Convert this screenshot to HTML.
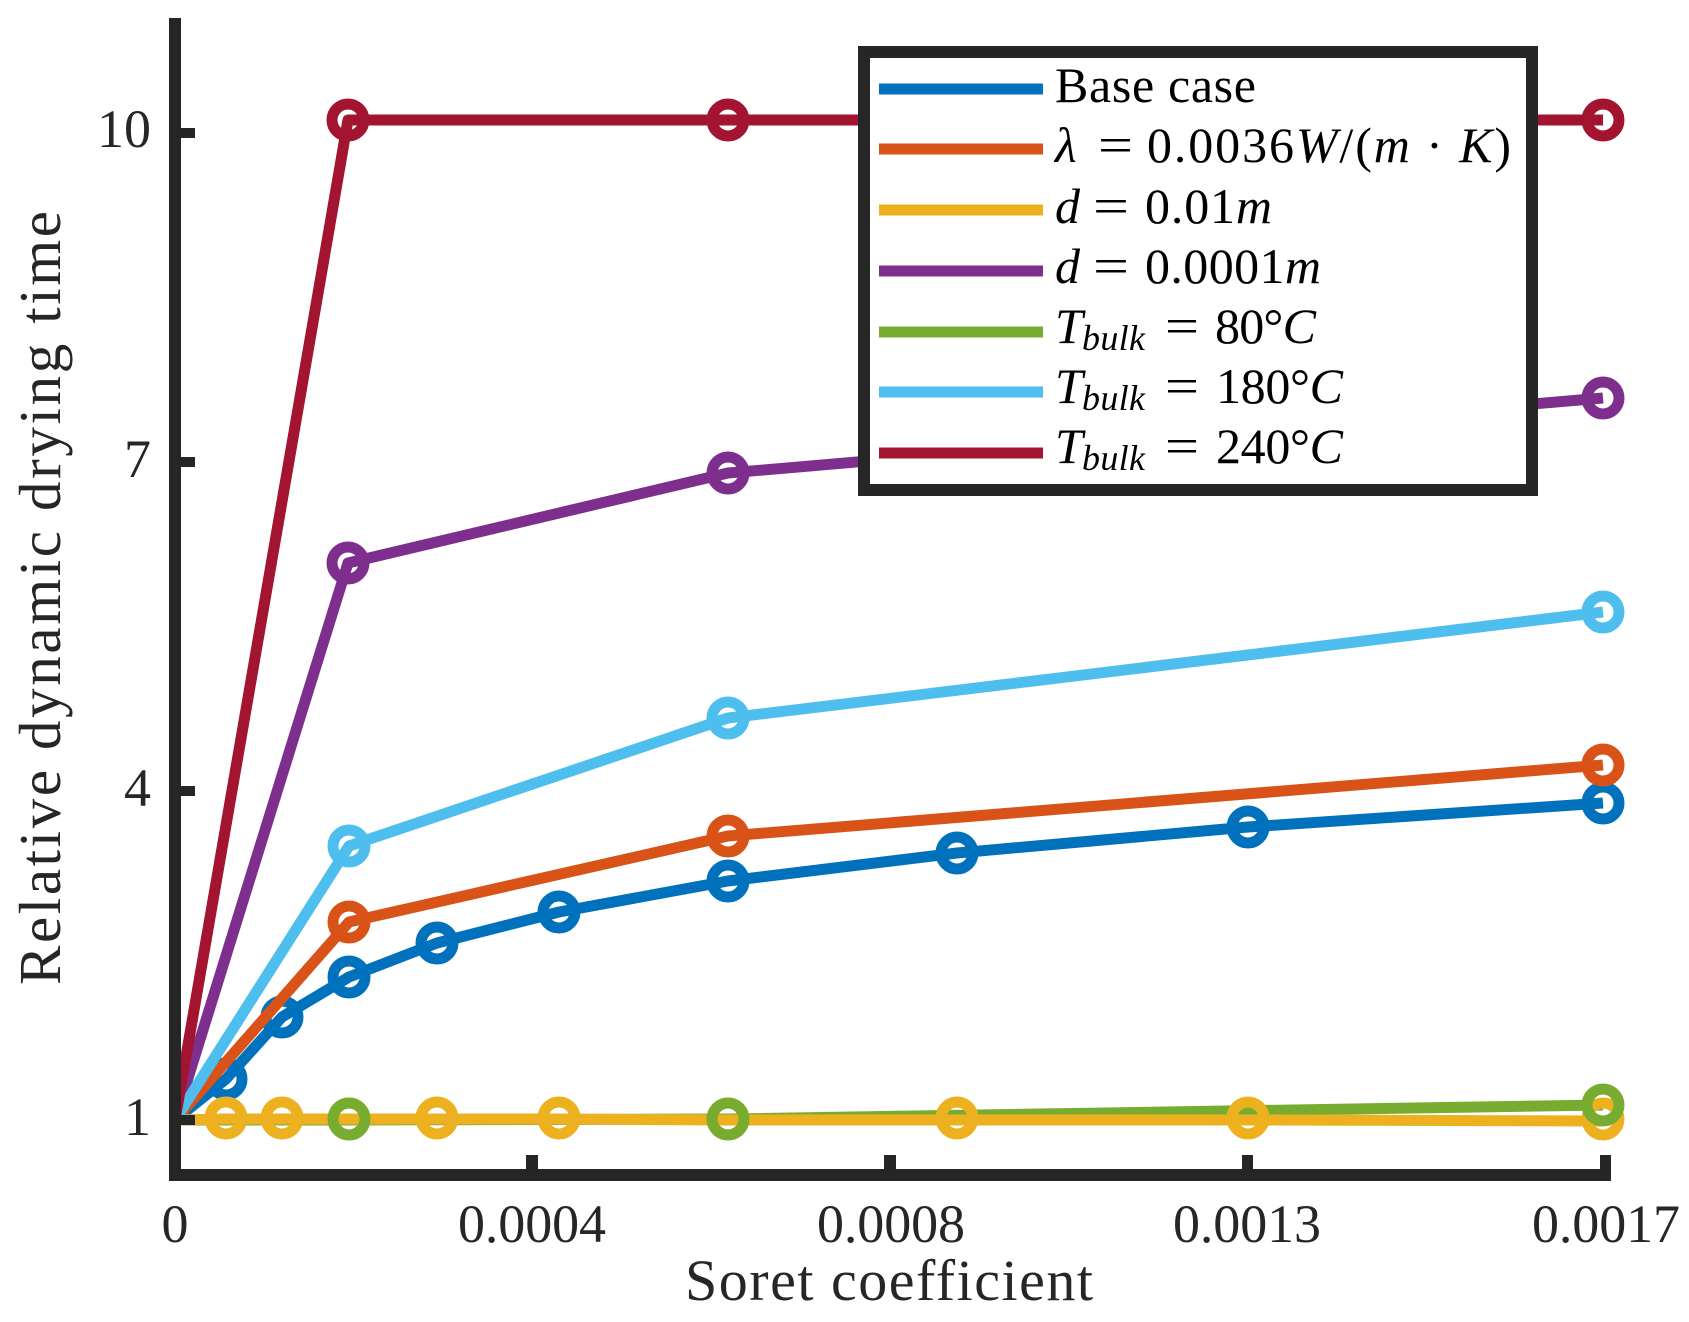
<!DOCTYPE html>
<html>
<head>
<meta charset="utf-8">
<style>
html,body{margin:0;padding:0;background:#fff;}
svg{display:block;}
text{font-family:"Liberation Serif",serif;fill:#262626;}
</style>
</head>
<body>
<svg width="1689" height="1322" viewBox="0 0 1689 1322" xmlns="http://www.w3.org/2000/svg">
<rect x="0" y="0" width="1689" height="1322" fill="#fff"/>

<!-- series -->
<g fill="none" stroke-width="11" stroke-linejoin="round" stroke-linecap="butt">
  <polyline stroke="#77AC30" points="175,1120 349,1120 728,1119 1603,1105"/>
  <polyline stroke="#0072BD" points="175,1120 226,1079 282,1017 349,977 437,943 559,912 728,881 957,853 1248,827 1603,803"/>
  <g stroke="#0072BD">
    <circle cx="226" cy="1079" r="16"/><circle cx="282" cy="1017" r="16"/><circle cx="349" cy="977" r="16"/>
    <circle cx="437" cy="943" r="16"/><circle cx="559" cy="912" r="16"/><circle cx="728" cy="881" r="16"/>
    <circle cx="957" cy="853" r="16"/><circle cx="1248" cy="827" r="16"/><circle cx="1603" cy="803" r="16"/>
  </g>
  <polyline stroke="#D95319" points="175,1120 349,922 728,836 1603,765"/>
  <g stroke="#D95319">
    <circle cx="349" cy="922" r="16"/><circle cx="728" cy="836" r="16"/><circle cx="1603" cy="765" r="16"/>
  </g>
  <polyline stroke="#EDB120" points="175,1120 226,1119 282,1119 349,1119 437,1119 559,1119 728,1120 957,1120 1248,1120 1603,1121"/>
  <g stroke="#EDB120">
    <circle cx="226" cy="1118" r="16"/><circle cx="282" cy="1118" r="16"/><circle cx="349" cy="1119" r="16"/>
    <circle cx="437" cy="1118" r="16"/><circle cx="559" cy="1118" r="16"/><circle cx="728" cy="1119" r="16"/>
    <circle cx="957" cy="1118" r="16"/><circle cx="1248" cy="1118" r="16"/><circle cx="1603" cy="1119" r="16"/>
  </g>
  <polyline stroke="#7E2F8E" points="175,1120 348,563 728,473 1603,398"/>
  <g stroke="#7E2F8E">
    <circle cx="348" cy="563" r="16"/><circle cx="728" cy="473" r="16"/><circle cx="1603" cy="398" r="16"/>
  </g>
  <g stroke="#77AC30">
    <circle cx="349" cy="1119" r="16"/><circle cx="728" cy="1119" r="16"/><circle cx="1603" cy="1105" r="16"/>
  </g>
  <polyline stroke="#4DBEEE" points="175,1120 349,846 728,718 1603,612"/>
  <g stroke="#4DBEEE">
    <circle cx="349" cy="846" r="16"/><circle cx="728" cy="718" r="16"/><circle cx="1603" cy="612" r="16"/>
  </g>
  <polyline stroke="#A2142F" points="175,1120 348,120 728,120 1603,120"/>
  <g stroke="#A2142F">
    <circle cx="348" cy="120" r="16"/><circle cx="728" cy="120" r="16"/><circle cx="1603" cy="120" r="16"/>
  </g>
</g>

<!-- axes -->
<g fill="#262626">
  <rect x="169" y="18" width="12" height="1163"/>
  <rect x="169" y="1169" width="1442" height="12"/>
  <rect x="526" y="1155" width="12" height="15"/>
  <rect x="884" y="1155" width="12" height="15"/>
  <rect x="1242" y="1155" width="11" height="15"/>
  <rect x="1600" y="1155" width="11" height="15"/>
  <rect x="180" y="128" width="15" height="10"/>
  <rect x="180" y="457" width="15" height="10"/>
  <rect x="180" y="786" width="15" height="10"/>
  <rect x="180" y="1115" width="15" height="10"/>
</g>

<!-- tick labels -->
<g font-size="54">
  <text x="175" y="1242" text-anchor="middle">0</text>
  <text x="532" y="1242" text-anchor="middle" textLength="148">0.0004</text>
  <text x="891" y="1242" text-anchor="middle" textLength="148">0.0008</text>
  <text x="1247" y="1242" text-anchor="middle" textLength="148">0.0013</text>
  <text x="1606" y="1242" text-anchor="middle" textLength="148">0.0017</text>
  <text x="151" y="147" text-anchor="end">10</text>
  <text x="151" y="477" text-anchor="end">7</text>
  <text x="151" y="806" text-anchor="end">4</text>
  <text x="151" y="1135" text-anchor="end">1</text>
</g>

<!-- axis labels -->
<text x="685" y="1300" font-size="58" textLength="408">Soret coefficient</text>
<text transform="translate(60,598) rotate(-90)" x="-387" y="0" font-size="59" textLength="774">Relative dynamic drying time</text>

<!-- legend -->
<rect x="864" y="52" width="668" height="438" fill="#fff" stroke="#262626" stroke-width="12"/>
<g stroke-width="11" fill="none">
  <line x1="879" y1="89" x2="1043" y2="89" stroke="#0072BD"/>
  <line x1="879" y1="149" x2="1043" y2="149" stroke="#D95319"/>
  <line x1="879" y1="210" x2="1043" y2="210" stroke="#EDB120"/>
  <line x1="879" y1="271" x2="1043" y2="271" stroke="#7E2F8E"/>
  <line x1="879" y1="332" x2="1043" y2="332" stroke="#77AC30"/>
  <line x1="879" y1="392" x2="1043" y2="392" stroke="#4DBEEE"/>
  <line x1="879" y1="453" x2="1043" y2="453" stroke="#A2142F"/>
</g>
<g font-size="50" style="fill:#000">
  <text x="1055" y="102" textLength="201" style="fill:#000">Base case</text>

  <text x="1055" y="162" font-style="italic" style="fill:#000">λ</text>
  <text x="1098" y="162" textLength="35" lengthAdjust="spacingAndGlyphs" style="fill:#000">=</text>
  <text x="1147" y="162" textLength="364" style="fill:#000">0.0036<tspan font-style="italic">W</tspan>/(<tspan font-style="italic">m</tspan> · <tspan font-style="italic">K</tspan>)</text>

  <text x="1055" y="223" font-style="italic" style="fill:#000">d</text>
  <text x="1093" y="223" textLength="36" lengthAdjust="spacingAndGlyphs" style="fill:#000">=</text>
  <text x="1145" y="223" textLength="127" style="fill:#000">0.01<tspan font-style="italic">m</tspan></text>

  <text x="1055" y="283" font-style="italic" style="fill:#000">d</text>
  <text x="1093" y="283" textLength="36" lengthAdjust="spacingAndGlyphs" style="fill:#000">=</text>
  <text x="1145" y="283" textLength="176" style="fill:#000">0.0001<tspan font-style="italic">m</tspan></text>

  <text x="1055" y="343" font-style="italic" style="fill:#000">T</text>
  <text x="1082" y="350" font-style="italic" font-size="36" textLength="63" style="fill:#000">bulk</text>
  <text x="1165" y="343" textLength="34" lengthAdjust="spacingAndGlyphs" style="fill:#000">=</text>
  <text x="1215" y="343" textLength="101" style="fill:#000">80°<tspan font-style="italic">C</tspan></text>

  <text x="1055" y="403" font-style="italic" style="fill:#000">T</text>
  <text x="1082" y="410" font-style="italic" font-size="36" textLength="63" style="fill:#000">bulk</text>
  <text x="1165" y="403" textLength="34" lengthAdjust="spacingAndGlyphs" style="fill:#000">=</text>
  <text x="1216" y="403" textLength="127" style="fill:#000">180°<tspan font-style="italic">C</tspan></text>

  <text x="1055" y="463" font-style="italic" style="fill:#000">T</text>
  <text x="1082" y="470" font-style="italic" font-size="36" textLength="63" style="fill:#000">bulk</text>
  <text x="1165" y="463" textLength="34" lengthAdjust="spacingAndGlyphs" style="fill:#000">=</text>
  <text x="1216" y="463" textLength="127" style="fill:#000">240°<tspan font-style="italic">C</tspan></text>
</g>
</svg>
</body>
</html>
